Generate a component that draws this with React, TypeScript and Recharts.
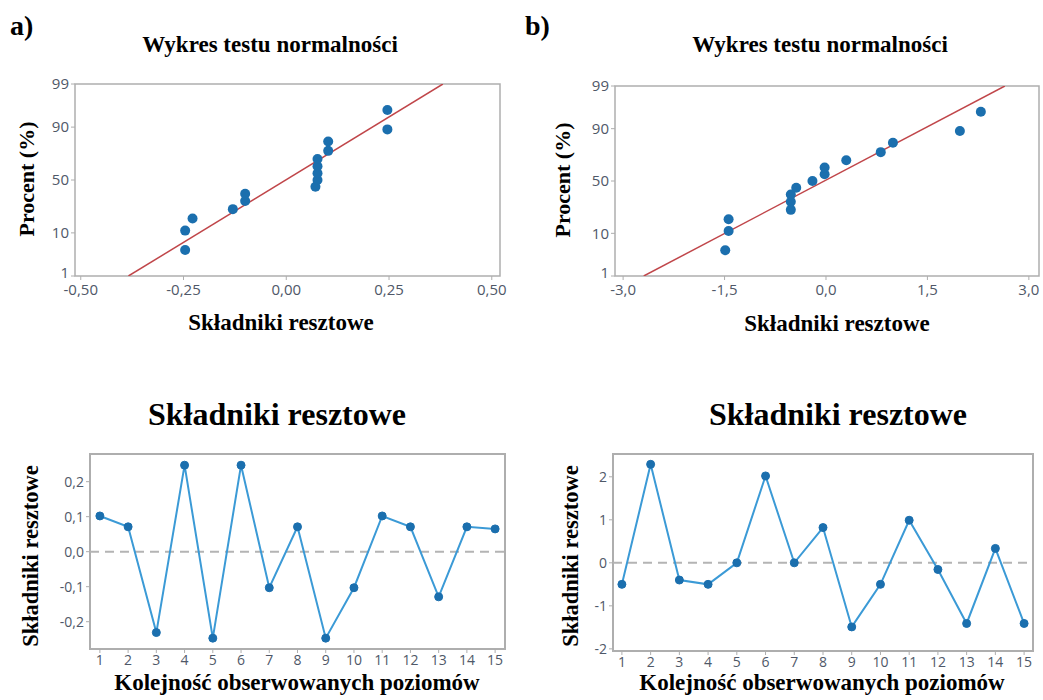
import React from 'react';
import {
  ScatterChart,
  Scatter,
  LineChart,
  Line,
  XAxis,
  YAxis,
  ReferenceArea,
  ReferenceLine,
} from 'recharts';

// rangi medianowe (%) dla 15 obserwacji
const percentRanks = [4.5, 11, 17.5, 24, 30.5, 37, 43.5, 50, 56.5, 63, 69.5, 76, 82.5, 89, 95.5];
const percentTicks = [1, 10, 50, 90, 99];

// a) wykres normalności - uporządkowane składniki resztowe
const probResA = [-0.246, -0.246, -0.228, -0.13, -0.1, -0.1, 0.071, 0.076, 0.076, 0.076, 0.076, 0.102, 0.102, 0.246, 0.246];
const fitXA = [-0.384, 0.381];
// b) wykres normalności
const probResB = [-1.49, -1.44, -1.44, -0.52, -0.52, -0.52, -0.44, -0.2, -0.02, -0.02, 0.3, 0.81, 0.99, 1.98, 2.29];
const fitXB = [-2.695, 2.645];
const fitP = [1, 99];

// kolejność obserwacji i składniki resztowe
const order = [1, 2, 3, 4, 5, 6, 7, 8, 9, 10, 11, 12, 13, 14, 15];
const resA = [0.102, 0.071, -0.231, 0.247, -0.247, 0.247, -0.103, 0.071, -0.247, -0.103, 0.102, 0.071, -0.129, 0.071, 0.065];
const resB = [-0.5, 2.29, -0.4, -0.5, 0, 2.02, 0, 0.82, -1.49, -0.5, 0.99, -0.155, -1.41, 0.335, -1.41];

const ticksA = [-0.5, -0.25, 0, 0.25, 0.5];
const ticksB = [-3, -1.5, 0, 1.5, 3];
const resTicksA = [-0.2, -0.1, 0, 0.1, 0.2];
const resTicksB = [-2, -1, 0, 1, 2];

// odwrotna dystrybuanta rozkładu normalnego (skala probitowa osi Y)
function probit(p: number): number {
  const a = [-39.69683028665376, 220.9460984245205, -275.9285104469687, 138.357751867269, -30.66479806614716, 2.506628277459239];
  const b = [-54.47609879822406, 161.5858368580409, -155.6989798598866, 66.80131188771972, -13.28068155288572];
  const c = [-0.007784894002430293, -0.3223964580411365, -2.400758277161838, -2.549732539343734, 4.374664141464968, 2.938163982698783];
  const d = [0.007784695709041462, 0.3224671290700398, 2.445134137142996, 3.754408661907416];
  const pl = 0.02425;
  if (p < pl) {
    const q = Math.sqrt(-2 * Math.log(p));
    return (((((c[0] * q + c[1]) * q + c[2]) * q + c[3]) * q + c[4]) * q + c[5]) / ((((d[0] * q + d[1]) * q + d[2]) * q + d[3]) * q + 1);
  }
  if (p > 1 - pl) {
    const q = Math.sqrt(-2 * Math.log(1 - p));
    return -(((((c[0] * q + c[1]) * q + c[2]) * q + c[3]) * q + c[4]) * q + c[5]) / ((((d[0] * q + d[1]) * q + d[2]) * q + d[3]) * q + 1);
  }
  const q = p - 0.5;
  const r = q * q;
  return ((((((a[0] * r + a[1]) * r + a[2]) * r + a[3]) * r + a[4]) * r + a[5]) * q) / (((((b[0] * r + b[1]) * r + b[2]) * r + b[3]) * r + b[4]) * r + 1);
}

const comma = (v: number, digits: number) => v.toFixed(digits).replace('.', ',');

const tickFont = 'Open Sans, sans-serif';
const tickColor = '#4f5868';
const tickStyle = { fill: tickColor, fontSize: 15, fontFamily: tickFont };
const smallTick = { fill: tickColor, fontSize: 14, fontFamily: tickFont };
const frame = '#aeaeae';
const dotBlue = '#1b6fae';
const lineBlue = '#3b9ad6';
const fitRed = '#c0464a';

const zMin = probit(0.01);
const zMax = probit(0.99);

// etykieta osi Y w skali procentowej; najniższa lekko podniesiona jak w oryginale
const PercentTick = (props: any) => {
  const { x, y, index } = props;
  const shift = index === 0 ? -3 : 0;
  return (
    <text x={x} y={y + shift} dy="0.355em" textAnchor="end" fill={tickColor} fontSize={15} fontFamily={tickFont}>
      {percentTicks[index]}
    </text>
  );
};

interface ProbPlotProps {
  xs: number[];
  fitX: number[];
  domain: [number, number];
  ticks: number[];
  digits: number;
  width: number;
  yAxisWidth: number;
  marginTop: number;
  marginRight: number;
}

const ProbPlot: React.FC<ProbPlotProps> = ({ xs, fitX, domain, ticks, digits, width, yAxisWidth, marginTop, marginRight }) => {
  const points = xs.map((x, i) => ({ x, z: probit(percentRanks[i] / 100) }));
  const fit = fitX.map((x, i) => ({ x, z: probit(fitP[i] / 100) }));
  return (
    <ScatterChart width={width} height={231} margin={{ top: marginTop, right: marginRight, bottom: 0, left: 0 }}>
      <XAxis
        type="number"
        dataKey="x"
        domain={domain}
        ticks={ticks}
        allowDataOverflow
        axisLine={false}
        tickLine={{ stroke: frame }}
        tickSize={4}
        tickMargin={4}
        height={25}
        tick={tickStyle}
        tickFormatter={(v: number) => comma(v, digits)}
      />
      <YAxis
        type="number"
        dataKey="z"
        domain={[zMin, zMax]}
        ticks={percentTicks.map((p) => probit(p / 100))}
        allowDataOverflow
        axisLine={false}
        tickLine={{ stroke: frame }}
        tickSize={4}
        width={yAxisWidth}
        tick={<PercentTick />}
      />
      <ReferenceArea x1={domain[0]} x2={domain[1]} y1={zMin} y2={zMax} fill="none" stroke={frame} strokeWidth={1.5} />
      <Scatter data={fit} line={{ stroke: fitRed, strokeWidth: 1.5 }} shape={() => <g />} isAnimationActive={false} />
      <Scatter data={points} fill={dotBlue} shape={(p: any) => <circle cx={p.cx} cy={p.cy} r={5} fill={dotBlue} />} isAnimationActive={false} />
    </ScatterChart>
  );
};

interface OrderPlotProps {
  values: number[];
  xDomain: [number, number];
  yDomain: [number, number];
  ticks: number[];
  digits: number;
  width: number;
  height: number;
  yAxisWidth: number;
  marginRight: number;
}

const OrderPlot: React.FC<OrderPlotProps> = ({ values, xDomain, yDomain, ticks, digits, width, height, yAxisWidth, marginRight }) => {
  const data = order.map((o, i) => ({ order: o, res: values[i] }));
  return (
    <LineChart width={width} height={height} data={data} margin={{ top: 14, right: marginRight, bottom: 0, left: 0 }}>
      <XAxis
        type="number"
        dataKey="order"
        domain={xDomain}
        ticks={order}
        interval={0}
        allowDataOverflow
        axisLine={false}
        tickLine={{ stroke: frame }}
        tickSize={4}
        height={26}
        tick={smallTick}
      />
      <YAxis
        type="number"
        domain={yDomain}
        ticks={ticks}
        allowDataOverflow
        axisLine={false}
        tickLine={{ stroke: frame }}
        tickSize={4}
        width={yAxisWidth}
        tick={smallTick}
        tickFormatter={(v: number) => comma(v, digits)}
      />
      <ReferenceArea x1={xDomain[0]} x2={xDomain[1]} y1={yDomain[0]} y2={yDomain[1]} fill="none" stroke={frame} strokeWidth={2} />
      <ReferenceLine y={0} stroke="#b4b4b4" strokeWidth={2} strokeDasharray="9 6" />
      <Line
        dataKey="res"
        stroke={lineBlue}
        strokeWidth={2}
        dot={{ r: 4, fill: dotBlue, stroke: dotBlue, strokeWidth: 1 }}
        isAnimationActive={false}
      />
    </LineChart>
  );
};

const serif = '"Liberation Serif", "Times New Roman", serif';

const App: React.FC = () => {
  const box = (left: number, top: number): React.CSSProperties => ({ position: 'absolute', left, top });
  return (
    <div style={{ position: 'absolute', left: 0, top: 0, width: 1043, height: 700, background: '#fff', overflow: 'hidden' }}>
      <div style={box(0, 70)}>
        <ProbPlot xs={probResA} fitX={fitXA} domain={[-0.514, 0.52]} ticks={ticksA} digits={2} width={520} yAxisWidth={75} marginTop={14} marginRight={20} />
      </div>
      <div style={box(520, 70)}>
        <ProbPlot xs={probResB} fitX={fitXB} domain={[-3.12, 3.15]} ticks={ticksB} digits={1} width={523} yAxisWidth={95} marginTop={16} marginRight={4} />
      </div>
      <div style={box(0, 440)}>
        <OrderPlot values={resA} xDomain={[0.65, 15.35]} yDomain={[-0.278, 0.279]} ticks={resTicksA} digits={1} width={520} height={235} yAxisWidth={90} marginRight={15} />
      </div>
      <div style={box(520, 440)}>
        <OrderPlot values={resB} xDomain={[0.69, 15.31]} yDomain={[-2.05, 2.53]} ticks={resTicksB} digits={0} width={523} height={237} yAxisWidth={93} marginRight={10} />
      </div>
      <svg width={1043} height={700} style={{ position: 'absolute', left: 0, top: 0, pointerEvents: 'none' }} fontFamily={serif} fontWeight="bold" fill="#000">
        <text x={10} y={35} fontSize={28}>a)</text>
        <text x={525} y={35} fontSize={28}>b)</text>
        <text x={270} y={52} fontSize={23} textAnchor="middle">Wykres testu normalności</text>
        <text x={820} y={52} fontSize={23} textAnchor="middle">Wykres testu normalności</text>
        <text x={281} y={330} fontSize={23} textAnchor="middle">Składniki resztowe</text>
        <text x={837} y={331} fontSize={23} textAnchor="middle">Składniki resztowe</text>
        <text transform="translate(34,179) rotate(-90)" fontSize={22} textAnchor="middle">Procent (%)</text>
        <text transform="translate(570,180) rotate(-90)" fontSize={22} textAnchor="middle">Procent (%)</text>
        <text x={277} y={425} fontSize={32} textAnchor="middle">Składniki resztowe</text>
        <text x={838} y={425} fontSize={32} textAnchor="middle">Składniki resztowe</text>
        <text transform="translate(38,556) rotate(-90)" fontSize={22.5} textAnchor="middle">Składniki resztowe</text>
        <text transform="translate(578,556) rotate(-90)" fontSize={22.5} textAnchor="middle">Składniki resztowe</text>
        <text x={297} y={690} fontSize={23} textAnchor="middle">Kolejność obserwowanych poziomów</text>
        <text x={822} y={690} fontSize={23} textAnchor="middle">Kolejność obserwowanych poziomów</text>
      </svg>
    </div>
  );
};

export default App;
